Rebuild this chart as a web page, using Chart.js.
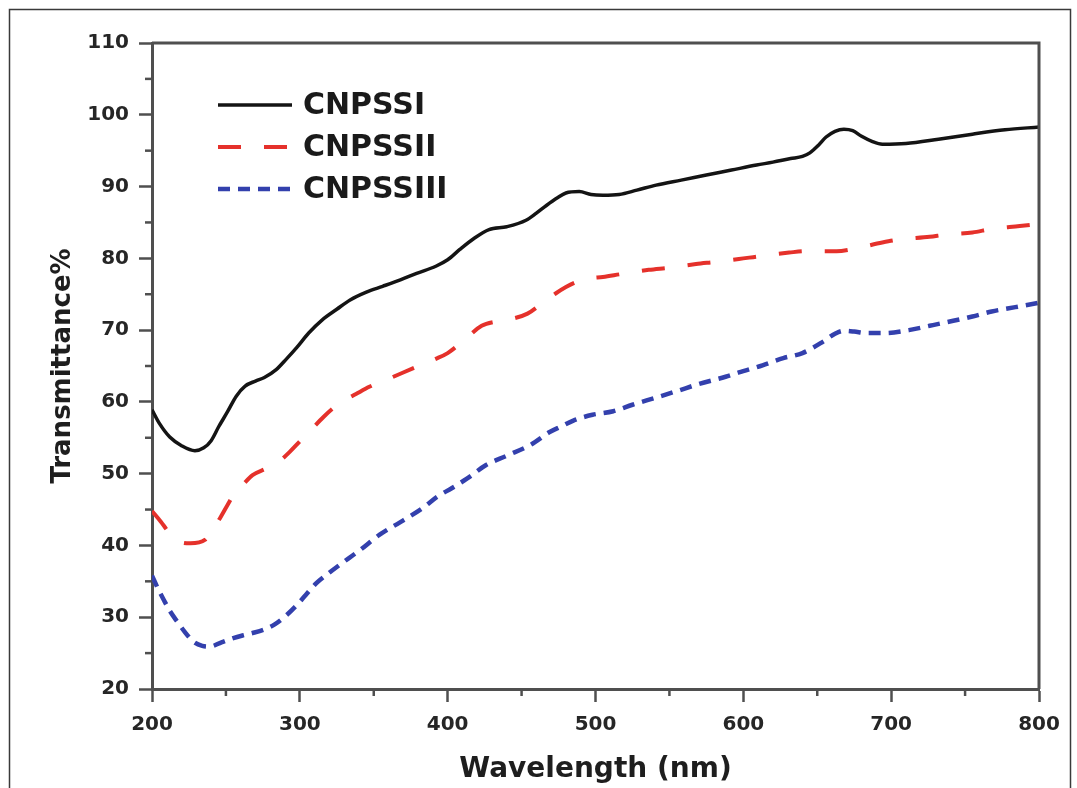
<!DOCTYPE html>
<html>
<head>
<meta charset="utf-8">
<script src="https://cdn.jsdelivr.net/npm/chart.js@4/dist/chart.umd.min.js"></script>
<style>
  html, body { margin: 0; padding: 0; background: #ffffff; }
  #wrap { position: relative; width: 1077px; height: 788px; }
  canvas { display: block; }
</style>
</head>
<body>
<div id="wrap"><canvas id="c" width="1077" height="788"></canvas></div>
<script>
// ---- Data ----
const seriesNames = ["CNPSSI", "CNPSSII", "CNPSSIII"];

const wavelengthI = [200, 205, 212, 220, 229, 235, 240, 245, 251, 257, 263, 270, 276, 284, 291, 298, 306, 315, 325, 334, 345, 356, 368, 379, 392, 400, 408, 418, 428, 440, 453, 460, 467, 474, 480, 489, 497, 505, 516, 528, 541, 558, 575, 592, 609, 620, 632, 640, 645, 651, 656, 662, 668, 674, 680, 687, 694, 710, 732, 755, 777, 800];
const transmittanceI = [58.9, 57.0, 55.1, 53.9, 53.2, 53.6, 54.6, 56.5, 58.6, 60.8, 62.2, 62.9, 63.4, 64.5, 66.0, 67.6, 69.6, 71.4, 72.9, 74.2, 75.3, 76.1, 77.0, 77.9, 78.9, 79.8, 81.2, 82.8, 84.0, 84.4, 85.3, 86.3, 87.4, 88.4, 89.1, 89.3, 88.9, 88.8, 88.9, 89.5, 90.2, 90.9, 91.6, 92.3, 93.0, 93.4, 93.9, 94.2, 94.7, 95.8, 96.9, 97.7, 98.0, 97.8, 97.0, 96.3, 95.9, 96.0, 96.6, 97.3, 97.9, 98.3];

const wavelengthII = [200, 206, 212, 219, 226, 236, 241, 246, 251, 256, 262, 268, 277, 286, 293, 300, 308, 316, 323, 330, 338, 347, 361, 379, 392, 400, 410, 423, 433, 442, 454, 463, 473, 480, 487, 496, 505, 517, 536, 550, 568, 581, 597, 611, 631, 642, 663, 674, 694, 705, 726, 737, 755, 768, 787, 800];
const transmittanceII = [44.8, 43.3, 41.7, 40.5, 40.3, 40.8, 42.2, 43.8, 45.6, 47.3, 48.6, 49.8, 50.7, 51.7, 53.0, 54.5, 56.2, 57.9, 59.2, 60.2, 61.1, 62.1, 63.3, 64.9, 66.0, 66.8, 68.4, 70.6, 71.2, 71.5, 72.3, 73.6, 75.1, 76.0, 76.7, 77.2, 77.4, 77.8, 78.4, 78.7, 79.2, 79.5, 79.9, 80.3, 80.8, 81.0, 81.0, 81.3, 82.2, 82.6, 83.0, 83.3, 83.6, 84.1, 84.5, 84.8];

const wavelengthIII = [200, 204, 208, 212, 217, 222, 228, 234, 239, 247, 255, 262, 268, 276, 283, 290, 298, 304, 311, 318, 325, 333, 341, 354, 370, 383, 393, 403, 413, 426, 440, 456, 469, 477, 485, 498, 512, 525, 541, 555, 570, 588, 597, 613, 627, 640, 654, 662, 668, 675, 683, 696, 712, 726, 742, 755, 768, 784, 800];
const transmittanceIII = [35.8, 34.0, 32.4, 30.9, 29.4, 28.0, 26.6, 26.0, 25.9, 26.5, 27.1, 27.5, 27.8, 28.3, 29.0, 30.1, 31.7, 33.1, 34.7, 35.9, 37.0, 38.2, 39.4, 41.5, 43.5, 45.2, 46.8, 48.0, 49.3, 51.2, 52.5, 54.0, 55.8, 56.6, 57.4, 58.2, 58.7, 59.6, 60.6, 61.5, 62.5, 63.5, 64.1, 65.1, 66.1, 66.8, 68.4, 69.5, 69.9, 69.8, 69.6, 69.6, 70.0, 70.6, 71.3, 71.9, 72.6, 73.2, 73.8];

const xTickValues = [200, 300, 400, 500, 600, 700, 800];
const yTickValues = [20, 30, 40, 50, 60, 70, 80, 90, 100, 110];
const xTitle = "Wavelength (nm)";
const yTitle = "Transmittance%";

// ---- Helpers ----
const toPoints = (xs, ys) => xs.map((x, i) => ({ x: x, y: ys[i] }));
const AXIS_COLOR = '#4f4f4f';
const FONT = "'DejaVu Sans', sans-serif";

// Frame, minor ticks and in-plot legend
const decorPlugin = {
  id: 'decor',
  beforeDraw(chart) {
    const ctx = chart.ctx;
    ctx.save();
    ctx.fillStyle = '#ffffff';
    ctx.fillRect(0, 0, chart.width, chart.height);
    ctx.strokeStyle = '#3a3a3a';
    ctx.lineWidth = 1.5;
    ctx.strokeRect(9.5, 9.5, 1061, 800);
    ctx.restore();
  },
  afterDraw(chart) {
    const ctx = chart.ctx;
    const a = chart.chartArea;
    const xs = chart.scales.x, ys = chart.scales.y;
    ctx.save();
    // top and right border of plot box
    ctx.strokeStyle = AXIS_COLOR;
    ctx.lineWidth = 3;
    ctx.beginPath();
    ctx.moveTo(a.left, a.top);
    ctx.lineTo(a.right, a.top);
    ctx.lineTo(a.right, a.bottom);
    ctx.stroke();
    // minor ticks
    ctx.lineWidth = 2.5;
    for (let v = 250; v < 800; v += 100) {
      const px = xs.getPixelForValue(v);
      ctx.beginPath();
      ctx.moveTo(px, a.bottom);
      ctx.lineTo(px, a.bottom + 7);
      ctx.stroke();
    }
    for (let v = 25; v < 110; v += 10) {
      const py = ys.getPixelForValue(v);
      ctx.beginPath();
      ctx.moveTo(a.left, py);
      ctx.lineTo(a.left - 7, py);
      ctx.stroke();
    }
    // legend
    const lx0 = a.left + 66, lx1 = a.left + 140, tx = a.left + 151;
    chart.data.datasets.forEach((ds, i) => {
      const y = a.top + 62 + i * 42;
      ctx.strokeStyle = ds.borderColor;
      ctx.lineWidth = ds.borderWidth;
      ctx.setLineDash(ds.borderDash || []);
      ctx.lineCap = 'butt';
      ctx.beginPath();
      ctx.moveTo(lx0, y);
      ctx.lineTo(lx1, y);
      ctx.stroke();
      ctx.setLineDash([]);
      ctx.fillStyle = '#1a1a1a';
      ctx.font = "bold 30px " + FONT;
      ctx.textBaseline = 'middle';
      ctx.textAlign = 'left';
      ctx.fillText(ds.label, tx, y + 1);
    });
    ctx.restore();
  }
};

const ctx = document.getElementById('c').getContext('2d');
new Chart(ctx, {
  type: 'line',
  data: {
    datasets: [
      { label: seriesNames[0], data: toPoints(wavelengthI, transmittanceI), borderColor: '#141414', borderWidth: 3.5, borderDash: [], pointRadius: 0, cubicInterpolationMode: 'monotone', fill: false },
      { label: seriesNames[1], data: toPoints(wavelengthII, transmittanceII), borderColor: '#e5312b', borderWidth: 4, borderDash: [23, 23], pointRadius: 0, cubicInterpolationMode: 'monotone', fill: false },
      { label: seriesNames[2], data: toPoints(wavelengthIII, transmittanceIII), borderColor: '#3340ad', borderWidth: 4.5, borderDash: [12, 8], pointRadius: 0, cubicInterpolationMode: 'monotone', fill: false }
    ]
  },
  options: {
    responsive: false,
    animation: false,
    devicePixelRatio: 1,
    layout: { padding: { left: 0, top: 43, right: 38, bottom: 0 } },
    plugins: { legend: { display: false }, tooltip: { enabled: false } },
    scales: {
      x: {
        type: 'linear',
        min: 200, max: 800,
        afterBuildTicks: (s) => { s.ticks = xTickValues.map(v => ({ value: v })); },
        afterFit: (s) => { s.height = 99; },
        grid: { display: true, drawOnChartArea: false, drawTicks: true, tickLength: 13, tickWidth: 2.5, tickColor: AXIS_COLOR },
        border: { display: true, color: AXIS_COLOR, width: 3 },
        ticks: { color: '#262626', font: { family: FONT, size: 20, weight: 'bold' }, padding: 11, maxRotation: 0 },
        title: { display: true, text: xTitle, color: '#1e1e1e', font: { family: FONT, size: 28, weight: 'bold' }, padding: { top: 0, bottom: 1 } }
      },
      y: {
        type: 'linear',
        min: 20, max: 110,
        afterBuildTicks: (s) => { s.ticks = yTickValues.map(v => ({ value: v })); },
        afterFit: (s) => { s.width = 152; },
        grid: { display: true, drawOnChartArea: false, drawTicks: true, tickLength: 13, tickWidth: 2.5, tickColor: AXIS_COLOR },
        border: { display: true, color: AXIS_COLOR, width: 3 },
        ticks: { color: '#262626', font: { family: FONT, size: 20, weight: 'bold' }, padding: 10 },
        title: { display: true, text: yTitle, color: '#1e1e1e', font: { family: FONT, size: 26, weight: 'bold' }, padding: { top: 48, bottom: 0 } }
      }
    }
  },
  plugins: [decorPlugin]
});
</script>
</body>
</html>
